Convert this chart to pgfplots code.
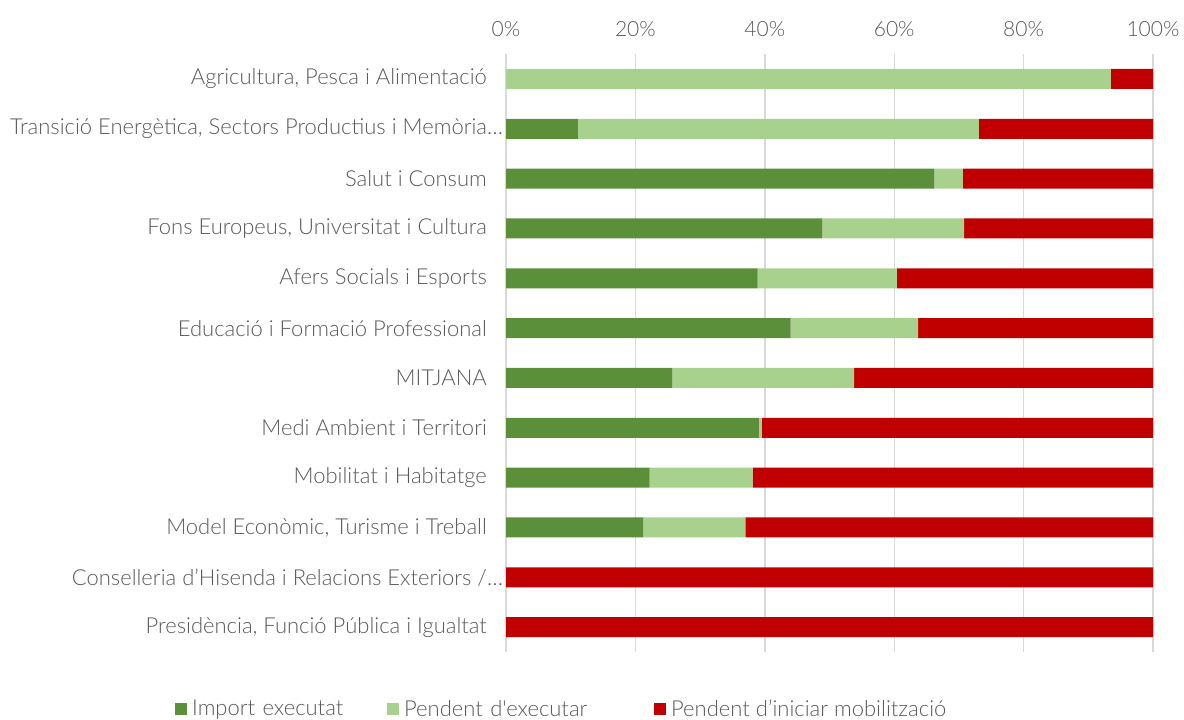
\documentclass[border=0pt]{standalone}
\usepackage{fontspec}
\setmainfont{Lato Light}[Ligatures=TeXOff]
\usepackage{pgfplots}
\pgfplotsset{compat=1.18}
\definecolor{dkgreen}{HTML}{5B8F3A}
\definecolor{ltgreen}{HTML}{A9D18E}
\definecolor{myred}{HTML}{C00000}
\definecolor{gridc}{HTML}{D9D9D9}
\definecolor{txt}{HTML}{595959}
\begin{document}
\begin{tikzpicture}
\useasboundingbox (0,0) rectangle (1184bp,720bp);
\begin{axis}[
  at={(506bp,68bp)}, anchor=south west,
  scale only axis, width=647bp, height=598bp,
  xbar stacked, bar width=20bp,
  xmin=0, xmax=100,
  ymin=-0.5, ymax=11.5, y dir=reverse,
  xtick={0,20,40,60,80,100},
  xticklabels={0\%,20\%,40\%,60\%,80\%,100\%},
  xticklabel pos=top,
  ytick={0,...,11},
  yticklabels={Agricultura{,} Pesca i Alimentació,
    Transició Energètica{,} Sectors Productius i Memòria…\hspace*{-16bp},
    Salut i Consum,
    Fons Europeus{,} Universitat i Cultura,
    Afers Socials i Esports,
    Educació i Formació Professional,
    MITJANA,
    Medi Ambient i Territori,
    Mobilitat i Habitatge,
    Model Econòmic{,} Turisme i Treball,
    Conselleria d’Hisenda i Relacions Exteriors /…\hspace*{-16bp},
    Presidència{,} Funció Pública i Igualtat},
  axis line style={draw=none},
  major tick length=0pt,
  xmajorgrids, major grid style={gridc, line width=1.4bp},
  yticklabel style={font=\fontsize{22bp}{26bp}\selectfont, text=txt, inner sep=0pt, xshift=-19bp},
  xticklabel style={font=\fontsize{21bp}{25bp}\selectfont, text=txt, inner sep=0pt, yshift=17bp},
  legend columns=3,
  legend cell align=left,
  legend image code/.code={\fill[#1] (0bp,-6bp) rectangle (12bp,6bp);},
  legend style={draw=none, fill=none, inner sep=0pt,
    at={(-0.5116,-0.095)}, anchor=west,
    font=\fontsize{22bp}{26bp}\selectfont, text=txt,
    nodes={inner sep=0pt},
    /tikz/every odd column/.append style={column sep=5bp},
    /tikz/column 2/.style={text width=195bp},
    /tikz/column 4/.style={text width=250bp}},
]
\addplot[fill=dkgreen, draw=none] coordinates {
(0,0) (11.1,1) (66.2,2) (48.9,3) (38.9,4) (44.0,5) (25.7,6) (39.1,7) (22.2,8) (21.2,9) (0,10) (0,11)};
\addplot[fill=ltgreen, draw=none] coordinates {
(93.5,0) (62.0,1) (4.4,2) (21.9,3) (21.5,4) (19.7,5) (28.1,6) (0.4,7) (15.9,8) (15.8,9) (0,10) (0,11)};
\addplot[fill=myred, draw=none] coordinates {
(6.5,0) (26.9,1) (29.4,2) (29.2,3) (39.6,4) (36.3,5) (46.2,6) (60.5,7) (61.9,8) (63.0,9) (100,10) (100,11)};
\legend{Import executat, Pendent d'executar, Pendent d’iniciar mobilització}
\end{axis}
\end{tikzpicture}
\end{document}
